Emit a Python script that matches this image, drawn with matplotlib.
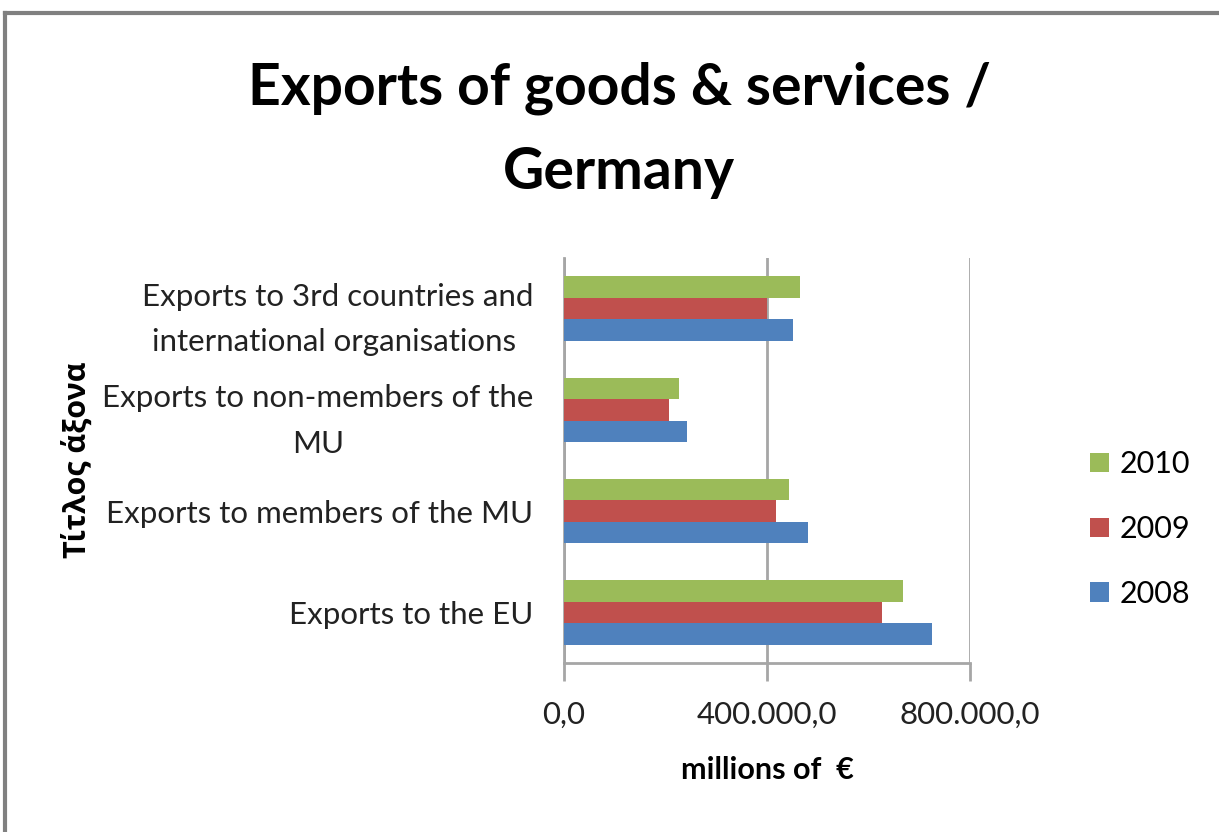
from matplotlib import pyplot as plt
from matplotlib.lines import Line2D
from matplotlib.ticker import FuncFormatter
import numpy as np

categories = ["Exports to the EU",
              "Exports to members of the MU",
              "Exports to non-members of the\nMU",
              "Exports to 3rd countries and\ninternational organisations "]
years = ["2008", "2009", "2010"]
v2008 = [726000, 481000, 242000, 452000]
v2009 = [627000, 417000, 207000, 400000]
v2010 = [669000, 443000, 227000, 465000]
colors = ["#4F81BD", "#C0504D", "#9BBB59"]

plt.rcParams['font.family'] = ['Lato', 'Open Sans', 'DejaVu Sans']

fig = plt.figure(figsize=(12.19, 8.32), dpi=100)
ax = fig.add_axes([0.4627, 0.2031, 0.3330, 0.4868])

y = np.arange(len(categories))
h = 0.213
for i, (vals, yr) in enumerate(zip([v2008, v2009, v2010], years)):
    ax.barh(y + (i - 1) * h, vals, height=h, color=colors[i], label=yr, zorder=3)

ax.set_xlim(0, 800000)
ax.set_ylim(-0.5, len(categories) - 0.5)
ax.set_xticks([0, 400000, 800000])
ax.xaxis.set_major_formatter(FuncFormatter(
    lambda v, p: "{:,.1f}".format(v).replace(",", "X").replace(".", ",").replace("X", ".")))
ax.set_yticks(y)
ax.set_yticklabels(categories, fontsize=22.5, multialignment='center', color='#222222',
                   linespacing=1.75)
ax.tick_params(axis='y', length=0, pad=22)
ax.tick_params(axis='x', labelsize=22.5, length=13, width=2, color='#a6a6a6',
               pad=14, labelcolor='#222222')
ax.grid(axis='x', color='#a6a6a6', linewidth=2, zorder=0)
for s in ['top', 'right']:
    ax.spines[s].set_visible(False)
ax.spines['bottom'].set_color('#a6a6a6')
ax.spines['bottom'].set_linewidth(2)
ax.spines['left'].set_color('#a6a6a6')
ax.spines['left'].set_linewidth(2)

ax.set_xlabel("millions of  €", fontsize=22, fontweight='bold', labelpad=20)
fig.text(0.063, 0.447, "Τίτλος άξονα", rotation=90, fontsize=22, fontweight='bold',
         family=['Open Sans', 'DejaVu Sans'], ha='center', va='center')

fig.text(0.508, 0.843, "Exports of goods & services /\nGermany", fontsize=41,
         fontweight='bold', ha='center', va='center', linespacing=1.72)

hs, ls = ax.get_legend_handles_labels()
fig.legend(hs[::-1], ls[::-1], loc='center left', bbox_to_anchor=(0.872, 0.364),
           frameon=False, fontsize=22, handlelength=0.6, handleheight=0.6,
           handletextpad=0.35, labelspacing=1.2)

fig.add_artist(Line2D([0.004, 1.0], [0.984, 0.984], color='#808080', linewidth=3))
fig.add_artist(Line2D([0.004, 0.004], [0.0, 0.984], color='#808080', linewidth=3))

fig.savefig("out.png", dpi=100)
